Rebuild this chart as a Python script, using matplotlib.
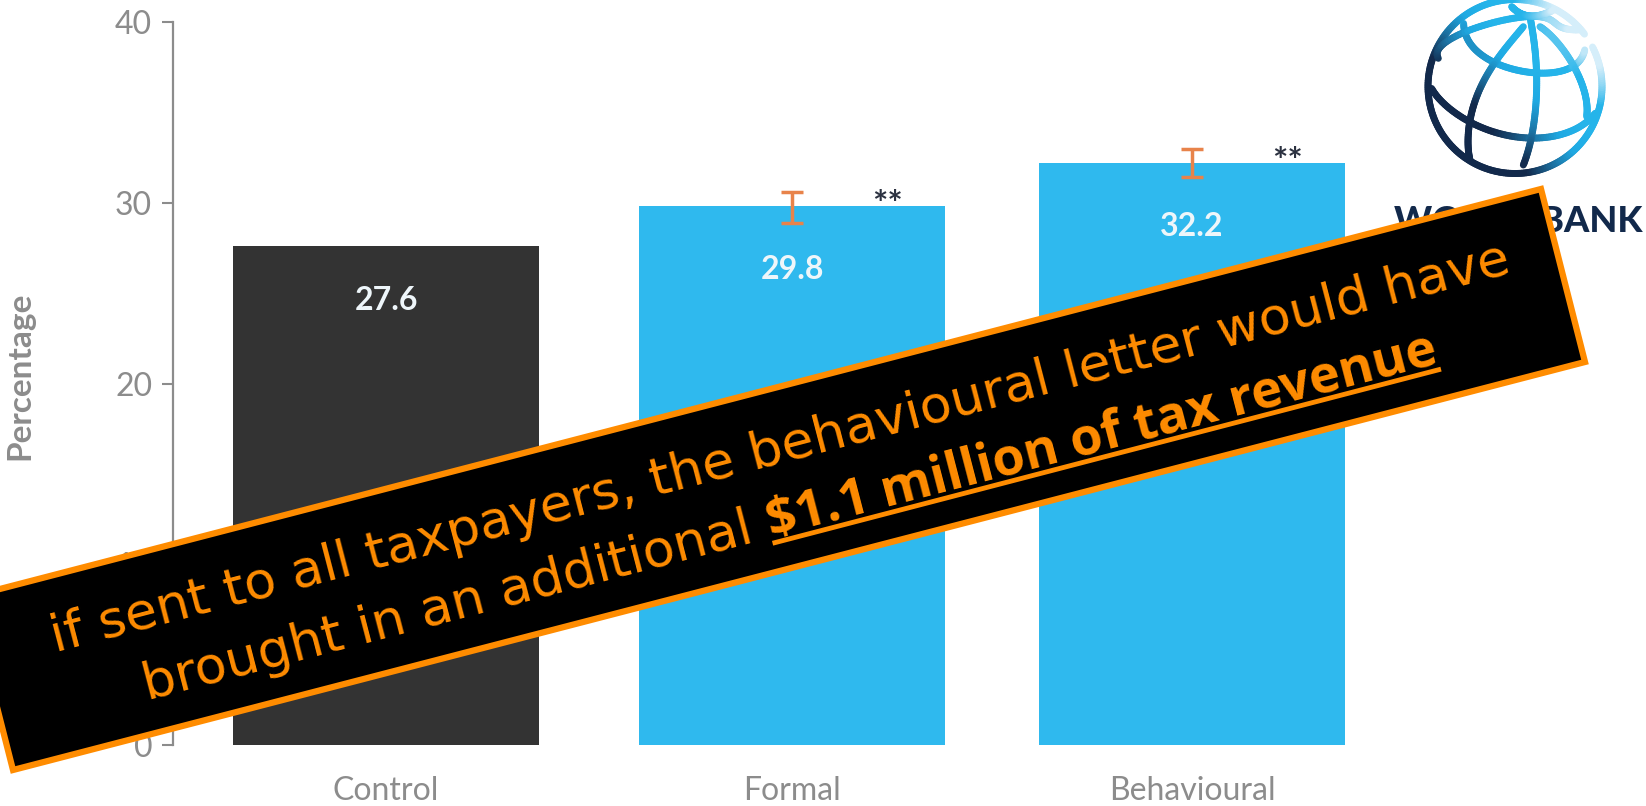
import numpy as np
import matplotlib
matplotlib.use("Agg")
import matplotlib.pyplot as plt
from matplotlib.collections import LineCollection
from matplotlib.colors import LinearSegmentedColormap
from matplotlib.patches import Polygon

# DATA
groups = ["Control", "Formal", "Behavioural"]
values = [27.6, 29.8, 32.2]
err_low = [None, 28.9, 31.4]
err_high = [None, 30.6, 33.0]
stars = ["", "**", "**"]
y_ticks = [0, 10, 20, 30, 40]
banner_line1 = "if sent to all taxpayers, the behavioural letter would have"
banner_line2a = "brought in an additional "
banner_line2b = "$1.1 million of tax revenue"
logo_text = "WORLD BANK"

W, H = 1646, 806
GREY = "#8c8c8c"
ORANGE = "#ff8c00"
NAVY = "#12294b"
plt.rcParams["font.family"] = ["Lato", "DejaVu Sans"]
plt.rcParams["text.parse_math"] = False

fig = plt.figure(figsize=(W / 100, H / 100), dpi=100)

# Chart axes, placed by pixels
left, right, top, bottom = 173, 1400, 22, 745
ax = fig.add_axes([left / W, 1 - bottom / H, (right - left) / W, (bottom - top) / H])
bar_x = [0, 1, 1.985]
bar_colors = ["#333333", "#2fb9ee", "#2fb9ee"]
label_drop = [3, 3.5, 3.5]
ax.bar(bar_x, values, width=0.754, color=bar_colors)
ax.set_xlim(-0.525, 2.497)
ax.set_ylim(0, 40)

for i in range(3):
    ax.text(bar_x[i], values[i] - label_drop[i], f"{values[i]}", color="#eef6fa", fontsize=23,
            fontweight="bold", ha="center", va="center")
    if err_low[i] is not None:
        mid = (err_low[i] + err_high[i]) / 2
        ax.errorbar(bar_x[i], mid, yerr=(err_high[i] - err_low[i]) / 2, color="#e8834a",
                    capsize=8, elinewidth=2.5, capthick=2.5)
        ax.text(bar_x[i] + 0.235, err_high[i] - 0.75, stars[i], color="#2b3140", fontsize=26,
                fontweight="bold", ha="center", va="center")

ax.set_xticks(bar_x)
ax.set_xticklabels(groups, fontsize=23, color=GREY)
ax.set_yticks(y_ticks)
ax.tick_params(axis="y", labelsize=23, labelcolor=GREY, color=GREY, length=8, width=1.5, pad=7)
ax.tick_params(axis="x", length=0, pad=22)
ax.set_ylabel("Percentage", fontsize=24, color=GREY, fontweight="bold")
ax.yaxis.set_label_coords(-0.113, 0.51)
for s in ["top", "right", "bottom"]:
    ax.spines[s].set_visible(False)
ax.spines["left"].set_color(GREY)
ax.spines["left"].set_linewidth(1.6)

# Overlay in pixel coordinates for logo and banner
ov = fig.add_axes([0, 0, 1, 1])
ov.set_xlim(0, W)
ov.set_ylim(H, 0)
ov.axis("off")
ov.patch.set_alpha(0)

# Logo globe
cx, cy, r = 1515, 86.5, 87
logo_cmap = LinearSegmentedColormap.from_list(
    "logo", [NAVY, NAVY, "#1c6f9f", "#1fa9e2", "#25b4ea", "#25b4ea", "#d5eefa"])


def colored_line(px, py):
    pts = np.column_stack([px, py]).reshape(-1, 1, 2)
    segs = np.concatenate([pts[:-1], pts[1:]], axis=1)
    mx = (px[:-1] + px[1:]) / 2
    my = (py[:-1] + py[1:]) / 2
    c = ((mx - cx) * 0.75 - (my - cy) * 0.65) / r / 2 + 0.5
    lc = LineCollection(segs, cmap=logo_cmap, capstyle="round", linewidth=5, zorder=2)
    lc.set_array(c)
    lc.set_clim(0.1, 0.95)
    ov.add_collection(lc)


def logo_curve(points, deg=4):
    p = np.array(points, dtype=float)
    t = np.linspace(0, 1, len(p))
    tt = np.linspace(0, 1, 80)
    deg = min(deg, len(p) - 1)
    px = np.polyval(np.polyfit(t, p[:, 0], deg), tt) / 3 + 1300
    py = np.polyval(np.polyfit(t, p[:, 1], deg), tt) / 3
    colored_line(px, py)


ang = np.radians(np.linspace(37, 387, 240))
colored_line(cx + r * np.cos(ang), cy - r * np.sin(ang))
logo_curve([(490, 70), (530, 150), (600, 195), (720, 222), (800, 205), (855, 150)])
logo_curve([(415, 175), (510, 90), (680, 50), (760, 65), (835, 90)])
logo_curve([(395, 265), (440, 320), (520, 370), (620, 405), (720, 415), (820, 390), (885, 340)])
logo_curve([(690, 50), (705, 150), (710, 260), (700, 380), (670, 495)])
logo_curve([(670, 80), (590, 180), (530, 290), (505, 400), (510, 480)])
logo_curve([(720, 80), (790, 150), (845, 250), (860, 350)])
logo_curve([(635, 20), (690, 48), (760, 30)], deg=2)

ov.text(1518, 232, logo_text, color=NAVY, fontsize=26, fontweight="black", ha="center",
        va="baseline", zorder=2)

# Banner
ov.add_patch(Polygon([(-31, 597), (1541, 189), (1585, 362), (13, 770)], closed=True,
                     facecolor="black", edgecolor=ORANGE, linewidth=4.5, joinstyle="miter", zorder=5))
angle = 14.6
ca, sa = np.cos(np.radians(angle)), np.sin(np.radians(angle))
size = 37.6
bfont = "DejaVu Sans"
ov.text(55, 652, banner_line1, color=ORANGE, fontsize=size, family=bfont, rotation=angle,
        rotation_mode="anchor", ha="left", va="baseline", zorder=6)
t2a = ov.text(147, 700, banner_line2a, color=ORANGE, fontsize=size, family=bfont, rotation=angle,
              rotation_mode="anchor", ha="left", va="baseline", zorder=6)

# measure the normal part flat, so the bold part can start where it ends
renderer = fig.canvas.get_renderer()
t2a.set_rotation(0)
w_a = t2a.get_window_extent(renderer).width
t2a.set_rotation(angle)
sx, sy = 147 + w_a * ca, 700 - w_a * sa
t2b = ov.text(sx, sy, banner_line2b, color=ORANGE, fontsize=size, family="Open Sans", fontweight="bold",
              rotation=0, rotation_mode="anchor", ha="left", va="baseline", zorder=6)
w_b = t2b.get_window_extent(renderer).width
t2b.set_rotation(angle)
ov.plot([sx + 6 * sa, sx + w_b * ca + 6 * sa], [sy + 6 * ca, sy - w_b * sa + 6 * ca], color=ORANGE,
        lw=3.5, solid_capstyle="butt", zorder=6)

fig.savefig("out.png", dpi=100)
